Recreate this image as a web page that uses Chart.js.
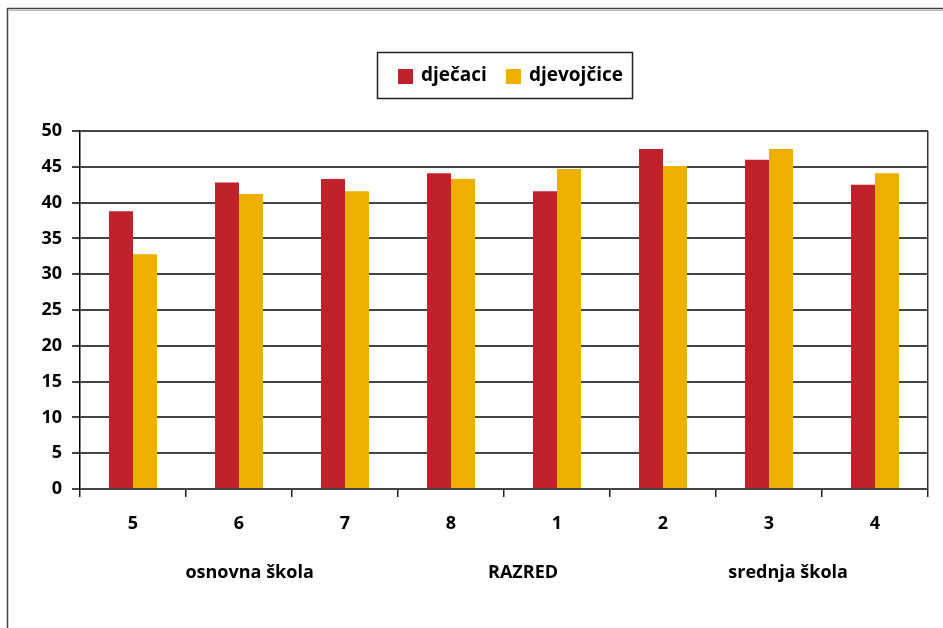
<!DOCTYPE html>
<html>
<head>
<meta charset="utf-8">
<script src="https://cdn.jsdelivr.net/npm/chart.js@4/dist/chart.umd.min.js"></script>
<style>
  html, body { margin: 0; padding: 0; background: #fff; }
  #wrap { width: 943px; height: 628px; position: relative; }
</style>
</head>
<body>
<div id="wrap"><canvas id="c" width="943" height="628"></canvas></div>
<script>
const categories = ['5', '6', '7', '8', '1', '2', '3', '4'];
const seriesNames = ['dječaci', 'djevojčice'];
const djecaci = [38.8, 42.8, 43.3, 44.1, 41.6, 47.5, 46.0, 42.5];
const djevojcice = [32.8, 41.2, 41.6, 43.3, 44.7, 45.1, 47.5, 44.1];
const groupLabels = ['osnovna škola', 'RAZRED', 'srednja škola'];
const yTicks = [0, 5, 10, 15, 20, 25, 30, 35, 40, 45, 50];

const FONT = '"Open Sans", "DejaVu Sans", sans-serif';
const RED = '#C0222B';
const YEL = '#EDB000';

const framePlugin = {
  id: 'frame',
  beforeDraw(chart) {
    const ctx = chart.ctx;
    ctx.save();
    ctx.fillStyle = '#fff';
    ctx.fillRect(0, 0, chart.width, chart.height);
    ctx.strokeStyle = '#444';
    ctx.lineWidth = 1.5;
    ctx.beginPath();
    ctx.moveTo(7, 8.5); ctx.lineTo(chart.width, 8.5);
    ctx.moveTo(7.5, 8); ctx.lineTo(7.5, chart.height);
    ctx.stroke();
    ctx.strokeStyle = '#bbb';
    ctx.lineWidth = 1;
    ctx.beginPath();
    ctx.moveTo(9, 10.5); ctx.lineTo(chart.width, 10.5);
    ctx.stroke();
    ctx.restore();
  }
};

const legendPlugin = {
  id: 'boxLegend',
  afterDraw(chart) {
    const ctx = chart.ctx;
    ctx.save();
    ctx.strokeStyle = '#222';
    ctx.lineWidth = 1.5;
    ctx.strokeRect(377.5, 52.5, 255, 46);
    const items = chart.data.datasets.map((d, i) => ({ label: d.label, color: d.backgroundColor, sx: [398, 506][i], tx: [421, 529][i] }));
    ctx.font = '700 19px ' + FONT;
    ctx.textBaseline = 'middle';
    items.forEach(it => {
      ctx.fillStyle = it.color;
      ctx.fillRect(it.sx, 69, 15, 15);
      ctx.fillStyle = '#000';
      ctx.fillText(it.label, it.tx, 76);
    });
    ctx.restore();
  }
};

const groupPlugin = {
  id: 'groupLabels',
  afterDraw(chart) {
    const ctx = chart.ctx;
    const xs = chart.scales.x;
    const pos = [1.1, 3.68, 6.18];
    ctx.save();
    ctx.font = '700 18px ' + FONT;
    ctx.textAlign = 'center';
    ctx.textBaseline = 'middle';
    ctx.fillStyle = '#000';
    groupLabels.forEach((g, i) => {
      ctx.fillText(g, xs.getPixelForValue(pos[i]), 573);
    });
    ctx.restore();
  }
};

new Chart(document.getElementById('c'), {
  type: 'bar',
  data: {
    labels: categories,
    datasets: [
      { label: seriesNames[0], data: djecaci, backgroundColor: RED },
      { label: seriesNames[1], data: djevojcice, backgroundColor: YEL }
    ]
  },
  options: {
    responsive: false,
    animation: false,
    devicePixelRatio: 1,
    layout: { padding: { top: 131, right: 15, bottom: 0, left: 0 } },
    datasets: { bar: { categoryPercentage: 0.453, barPercentage: 1.0 } },
    plugins: { legend: { display: false }, tooltip: { enabled: false } },
    scales: {
      x: {
        afterFit(scale) { scale.height = 139; },
        grid: {
          offset: true,
          drawOnChartArea: true,
          color: (c) => (c.type === 'scale' || c.index === 8) ? '#333' : 'transparent',
          tickColor: '#222',
          tickLength: 8,
          lineWidth: 1.5
        },
        border: { display: false },
        ticks: { color: '#000', font: { family: FONT, size: 18, weight: '700' }, padding: 16 }
      },
      y: {
        min: 0, max: 50,
        afterFit(scale) { scale.width = 80; },
        afterBuildTicks(scale) { scale.ticks = yTicks.map(v => ({ value: v })); },
        grid: { color: '#444', lineWidth: 2, tickLength: 8, tickColor: '#444' },
        border: { display: true, color: '#000', width: 1.5 },
        ticks: { color: '#000', font: { family: FONT, size: 18, weight: '700' }, padding: 10 }
      }
    }
  },
  plugins: [framePlugin, legendPlugin, groupPlugin]
});
</script>
</body>
</html>
